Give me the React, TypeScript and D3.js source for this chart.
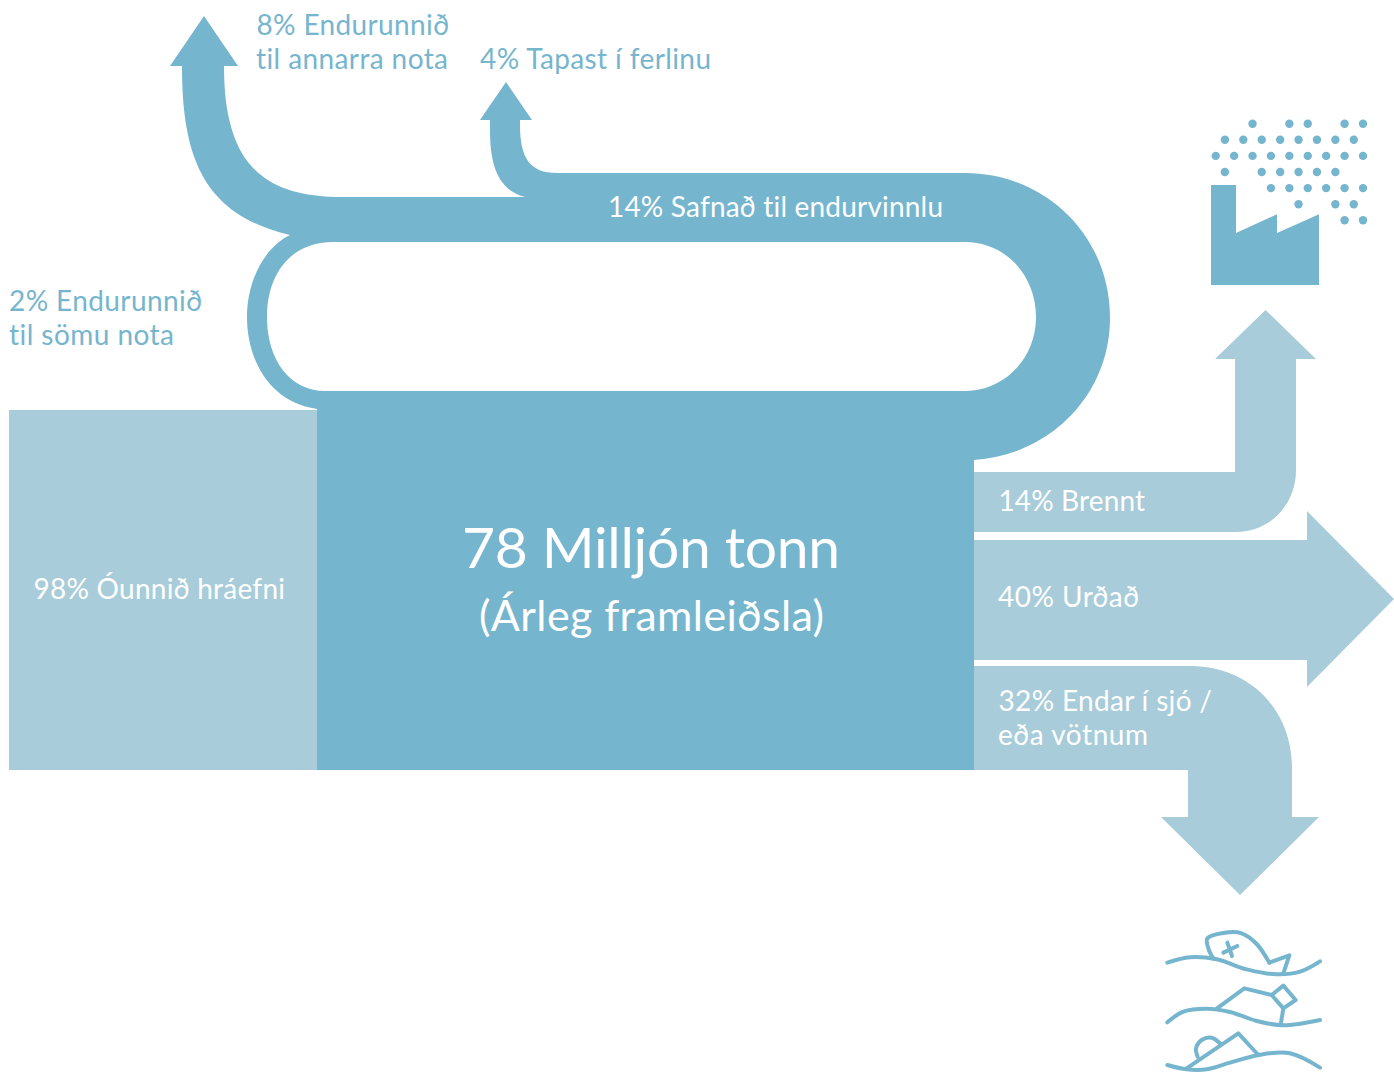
import React from "react";
import * as d3 from "d3";

// ---------- data ----------
const flowPercents = [2, 4, 8, 14, 32, 40, 98, 100];
const flowThickness = [20, 30, 42, 60, 104, 120, 360, 379]; // picture's (non linear) drawn widths
const totalLabel = "78 Milljón tonn";
const totalSub = "(Árleg framleiðsla)";
const pctTotal = 100;
const pctVirgin = 98;
const pctBurned = 14;
const pctLandfill = 40;
const pctOcean = 32;
const pctReuseOther = 8;
const pctLost = 4;
const pctReuseSame = 2;
const labelVirgin = "98% Óunnið hráefni";
const labelBurned = "14% Brennt";
const labelLandfill = "40% Urðað";
const labelOcean = ["32% Endar í sjó /", "eða vötnum"];
const labelCollected = "14% Safnað til endurvinnlu";
const labelReuseOther = ["8% Endurunnið", "til annarra nota"];
const labelLost = "4% Tapast í ferlinu";
const labelReuseSame = ["2% Endurunnið", "til sömu nota"];
const smokeRows = [
  [4, 8, 10, 14, 16],
  [1, 3, 5, 7, 9, 11, 13, 15],
  [0, 2, 4, 6, 8, 10, 12, 14, 16],
  [1, 5, 7, 9, 11, 13],
  [6, 8, 10, 12, 14, 16],
  [9, 13, 15],
  [14, 16],
];

const DARK = "#76b5ce";
const LIGHT = "#a8ccd9";
const FONT = "Lato, 'Noto Sans', sans-serif";

const thick = d3.scaleLinear().domain(flowPercents).range(flowThickness);

const poly = (pts: number[][]) => {
  const p = d3.path();
  pts.forEach(([x, y], i) => (i ? p.lineTo(x, y) : p.moveTo(x, y)));
  return p;
};

function mainPath() {
  const B = 770;
  const top = B - thick(pctTotal);
  const ringW = thick(pctReuseSame);
  const lost = thick(pctLost);
  const other = thick(pctReuseOther);
  const stemL = 490, stemR = stemL + lost; // 4% arrow
  const oL = 182, oR = oL + other; // 8% arrow
  const p = d3.path();
  p.moveTo(317, B);
  p.lineTo(974, B);
  p.lineTo(974, 460);
  p.bezierCurveTo(1050, 455, 1110, 395, 1110, 318);
  p.bezierCurveTo(1110, 235, 1045, 173, 965, 173);
  p.lineTo(557, 173);
  p.bezierCurveTo(530, 173, stemR, 158, stemR, 125);
  p.lineTo(stemR, 120);
  p.lineTo(stemR + 12, 120);
  p.lineTo((stemL + stemR) / 2 + 1, 82);
  p.lineTo(stemL - 10, 120);
  p.lineTo(stemL, 120);
  p.lineTo(stemL, 130);
  p.bezierCurveTo(stemL, 165, 498, 190, 525, 197);
  p.lineTo(335, 197);
  p.bezierCurveTo(260, 195, oR, 160, oR, 66);
  p.lineTo(oR + 14, 66);
  p.lineTo(204, 16);
  p.lineTo(oL - 12, 66);
  p.lineTo(oL, 66);
  p.bezierCurveTo(182, 160, 205, 215, 290, 235);
  p.bezierCurveTo(265, 247, 247, 280, 247, 317);
  p.bezierCurveTo(247, 358, 268, 402, 317, 409);
  p.closePath();
  // hole
  const iL = 247 + ringW;
  p.moveTo(333, 242);
  p.lineTo(965, 242);
  p.bezierCurveTo(1005, 242, 1036, 275, 1036, 317);
  p.bezierCurveTo(1036, 358, 1005, top, 965, top);
  p.lineTo(325, top);
  p.bezierCurveTo(290, top, iL, 360, iL, 317);
  p.bezierCurveTo(iL, 275, 290, 242, 333, 242);
  p.closePath();
  return p.toString();
}

function burnedPath() {
  const bottom = 532, t = bottom - thick(pctBurned), R = 1296, L = R - thick(pctBurned) - 1;
  const p = d3.path();
  p.moveTo(974, t);
  p.lineTo(L, t);
  p.lineTo(L, 359);
  p.lineTo(1215, 359);
  p.lineTo(1265.5, 310);
  p.lineTo(1316, 359);
  p.lineTo(R, 359);
  p.lineTo(R, 470);
  p.bezierCurveTo(R, 505, 1270, bottom, 1235, bottom);
  p.lineTo(974, bottom);
  p.closePath();
  return p.toString();
}

function oceanPath() {
  const B = 770, t = B - thick(pctOcean), R = 1292, L = R - thick(pctOcean);
  const p = d3.path();
  p.moveTo(974, t);
  p.lineTo(1190, t);
  p.bezierCurveTo(1250, t, R, 710, R, 768);
  p.lineTo(R, 817);
  p.lineTo(1319, 817);
  p.lineTo(1240, 895);
  p.lineTo(1161, 817);
  p.lineTo(L, 817);
  p.lineTo(L, B);
  p.lineTo(974, B);
  p.closePath();
  return p.toString();
}

// icon coordinate systems
const smokeX = d3.scaleLinear().domain([0, 16]).range([1215.7, 1363]);
const smokeY = d3.scaleLinear().domain([0, 6]).range([123.7, 220.3]);
const ix = d3.scaleLinear().domain([0, 190]).range([1150, 1150 + 190 / 3]);
const iy = d3.scaleLinear().domain([0, 153]).range([920, 920 + 153 / 3]);

function wavePaths() {
  const P = (x: number, y: number) => [ix(x), iy(y)] as [number, number];
  const segs: string[] = [];
  const curve = (pts: [number, number][], type: any = d3.curveCatmullRom) =>
    d3.line().curve(type)(pts.map(([x, y]) => P(x, y))) as string;
  // wave 1 + fish
  segs.push(curve([[52, 128], [120, 112], [200, 118], [290, 148], [380, 163], [450, 155], [510, 124]]));
  segs.push(curve([[190, 115], [176, 88], [172, 55], [225, 38], [275, 40], [320, 72], [358, 128]]));
  segs.push(curve([[358, 128], [418, 106], [400, 160]], d3.curveLinear));
  segs.push(curve([[232, 68], [246, 108]], d3.curveLinear));
  segs.push(curve([[220, 98], [262, 78]], d3.curveLinear));
  // wave 2 + bottle
  segs.push(curve([[52, 307], [100, 275], [170, 266], [240, 276], [320, 303], [400, 316], [510, 300]]));
  segs.push(curve([[200, 266], [283, 205], [365, 225]], d3.curveLinear));
  segs.push(curve([[365, 225], [400, 197], [437, 240], [400, 265], [365, 225]], d3.curveLinear));
  segs.push(curve([[400, 265], [392, 315]], d3.curveLinear));
  // wave 3 + box
  segs.push(curve([[52, 435], [110, 448], [170, 448], [240, 428], [330, 404], [420, 400], [510, 443]]));
  segs.push(curve([[110, 445], [265, 340], [325, 405]], d3.curveLinear));
  segs.push(curve([[143, 410], [138, 385], [155, 360], [185, 353], [212, 372]]));
  return segs;
}

const T = ({ x, y, size, fill, children, w }: any) => (
  <text x={x} y={y} fontSize={size} fill={fill} fontFamily={FONT}
    style={{ fontVariantLigatures: "none" }}
    textLength={w} lengthAdjust="spacing">{children}</text>
);

export default function App() {
  const uTop = 660 - thick(pctLandfill);
  const uBot = 660;
  return (
    <svg width={1394} height={1073} viewBox="0 0 1394 1073"
      style={{ position: "absolute", left: 0, top: 0, display: "block" }}>
      <rect x={9} y={770 - thick(pctVirgin)} width={308} height={thick(pctVirgin)} fill={LIGHT} />
      <path d={mainPath()} fill={DARK} fillRule="evenodd" />
      <path d={burnedPath()} fill={LIGHT} />
      <path d={poly([[974, uTop], [1307, uTop], [1307, 511], [1394, 599], [1307, 687], [1307, uBot], [974, uBot]]).toString() + "Z"} fill={LIGHT} />
      <path d={oceanPath()} fill={LIGHT} />

      <path d={poly([[1211, 185], [1236, 185], [1236, 233], [1277, 214.3], [1277, 233], [1319, 214.3], [1319, 285], [1211, 285]]).toString() + "Z"} fill={DARK} />
      {smokeRows.map((cols, r) =>
        cols.map((c) => <circle key={`${r}-${c}`} cx={smokeX(c)} cy={smokeY(r)} r={4.2} fill={DARK} />)
      )}
      <g fill="none" stroke={DARK} strokeWidth={4} strokeLinecap="round" strokeLinejoin="round">
        {wavePaths().map((d, i) => <path key={i} d={d} />)}
      </g>

      <T x={256.5} y={34.5} size={28} fill={DARK} w={192.5}>{labelReuseOther[0]}</T>
      <T x={256} y={68.5} size={28} fill={DARK} w={192}>{labelReuseOther[1]}</T>
      <T x={480} y={68.5} size={28} fill={DARK} w={231}>{labelLost}</T>
      <T x={9} y={310.5} size={28} fill={DARK} w={193}>{labelReuseSame[0]}</T>
      <T x={9} y={344.5} size={28} fill={DARK} w={165}>{labelReuseSame[1]}</T>
      <T x={608} y={216.5} size={28} fill="#fff" w={335}>{labelCollected}</T>
      <T x={33.5} y={599} size={28} fill="#fff" w={251.5}>{labelVirgin}</T>
      <T x={462} y={568} size={57} fill="#fff" w={378}>{totalLabel}</T>
      <T x={479} y={631} size={43} fill="#fff" w={345}>{totalSub}</T>
      <T x={998.5} y={510.5} size={28} fill="#fff" w={146.5}>{labelBurned}</T>
      <T x={998} y={606.5} size={28} fill="#fff" w={141}>{labelLandfill}</T>
      <T x={998.5} y={710.5} size={28} fill="#fff" w={213.5}>{labelOcean[0]}</T>
      <T x={998} y={744.5} size={28} fill="#fff" w={150}>{labelOcean[1]}</T>
    </svg>
  );
}
